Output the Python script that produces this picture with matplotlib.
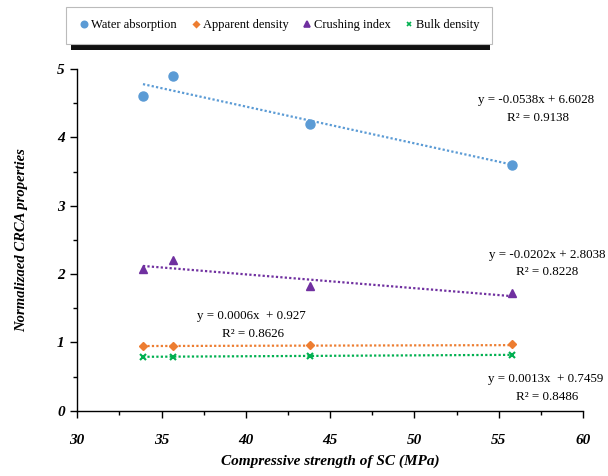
import matplotlib
matplotlib.use("Agg")
import matplotlib.pyplot as plt
import numpy as np
from matplotlib.ticker import MultipleLocator
from matplotlib.patches import Rectangle
from matplotlib.lines import Line2D

plt.rcParams['font.family'] = ['Liberation Serif', 'DejaVu Serif']

strength = [33.9, 35.7, 43.8, 55.8]
water_absorption = [4.6, 4.9, 4.2, 3.6]
apparent_density = [0.95, 0.95, 0.96, 0.97]
crushing_index = [2.08, 2.2, 1.82, 1.72]
bulk_density = [0.79, 0.79, 0.80, 0.82]

fits = {
    'water': (-0.0538, 6.6028, 0.9138),
    'crush': (-0.0202, 2.8038, 0.8228),
    'apparent': (0.0006, 0.927, 0.8626),
    'bulk': (0.0013, 0.7459, 0.8486),
}

c_blue = '#5B9BD5'
c_orange = '#ED7D31'
c_purple = '#7030A0'
c_green = '#00B050'

fig = plt.figure(figsize=(6.08, 4.76), dpi=100)
ax = fig.add_axes([0.127, 0.137, 0.832, 0.718])

series = [
    ('Water absorption', water_absorption, c_blue, 'o', 6.5, 'water'),
    ('Apparent density', apparent_density, c_orange, 'D', 4.2, 'apparent'),
    ('Crushing index', crushing_index, c_purple, '^', 6, 'crush'),
    ('Bulk density', bulk_density, c_green, 'x', 5, 'bulk'),
]
xs = np.array(strength)
xl = np.array([xs.min(), xs.max()])
for name, vals, col, mk, ms, key in series:
    m, b, r2 = fits[key]
    ax.plot(xl, m * xl + b, ls=(0, (1, 1)), color=col, lw=1.6, zorder=2)
    ax.plot(xs, vals, ls='none', marker=mk, color=col, ms=ms, mew=1.5 if mk == 'x' else 1, zorder=3)

ax.set_xlim(30, 60)
ax.set_ylim(0, 5)
ax.xaxis.set_major_locator(MultipleLocator(5))
ax.xaxis.set_minor_locator(MultipleLocator(2.5))
ax.yaxis.set_major_locator(MultipleLocator(1))
ax.yaxis.set_minor_locator(MultipleLocator(0.5))
for s in ['top', 'right']:
    ax.spines[s].set_visible(False)
for s in ['left', 'bottom']:
    ax.spines[s].set_linewidth(1.0)
ax.tick_params(which='major', direction='out', length=5, width=1, labelsize=11)
ax.tick_params(which='minor', direction='out', length=3, width=1)
for lab in ax.get_xticklabels() + ax.get_yticklabels():
    lab.set_fontweight('bold')
    lab.set_fontstyle('italic')
ax.tick_params(axis='x', pad=12)
ax.tick_params(axis='y', pad=4)

ax.set_xlabel('Compressive strength of SC (MPa)', fontsize=11, fontweight='bold', fontstyle='italic', labelpad=5)
ax.set_ylabel('Normalizaed CRCA properties', fontsize=10.5, fontweight='bold', fontstyle='italic', labelpad=21)

def ptxt(x, y, s):
    fig.text(x / 608, 1 - y / 476, s, ha='center', va='center', fontsize=9.4)

m, b, r2 = fits['water']
ptxt(536, 100, f'y = {m}x + {b}')
ptxt(538, 118, f'R² = {r2}')
m, b, r2 = fits['crush']
ptxt(547, 255, f'y = {m}x + {b}')
ptxt(547, 272, f'R² = {r2}')
m, b, r2 = fits['apparent']
ptxt(251, 316, f'y = {m}x  + {b}')
ptxt(253, 334, f'R² = {r2}')
m, b, r2 = fits['bulk']
ptxt(546, 379, f'y = {m}x  + {b}')
ptxt(547, 397, f'R² = {r2}')

# legend box with shadow
sh = Rectangle((71 / 608, 1 - 50 / 476), 419 / 608, 10 / 476,
               transform=fig.transFigure, facecolor='#111111', edgecolor='none', zorder=1)
fig.patches.append(sh)
handles = [Line2D([], [], ls='none', marker=mk, color=col, ms=ms * 0.7, mew=1.2) for _, _, col, mk, ms, _ in series]
labels = [s[0] for s in series]
leg = fig.legend(handles, labels, loc='center', bbox_to_anchor=(279 / 608, 1 - 25 / 476), ncol=4,
                 fontsize=9, frameon=True, fancybox=False, handletextpad=0.05, columnspacing=1.0,
                 handlelength=1.0, borderpad=1.0, borderaxespad=0, framealpha=1.0)
leg.get_frame().set_edgecolor('#bbbbbb')
leg.get_frame().set_linewidth(0.8)
leg.set_zorder(5)

fig.savefig('out.png', dpi=100)
